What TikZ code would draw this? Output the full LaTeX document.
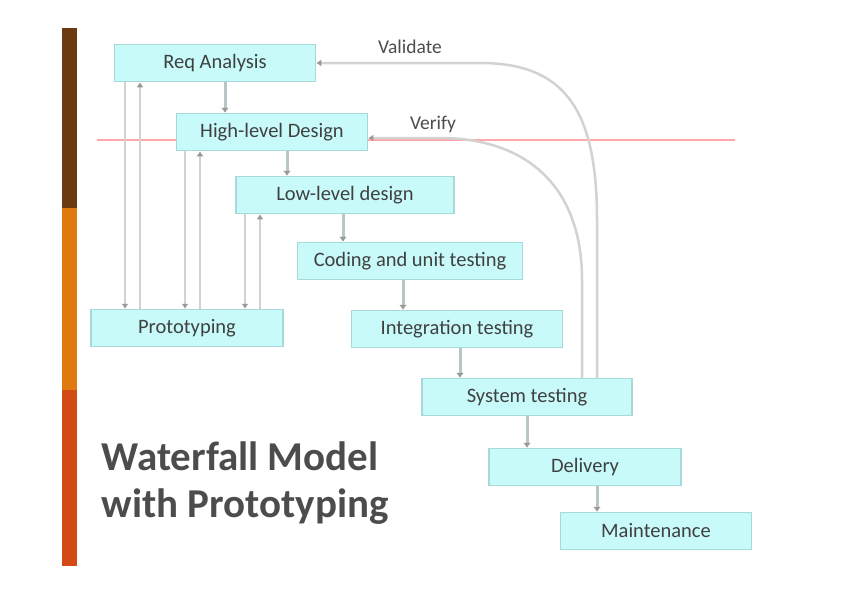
\documentclass[tikz,border=0pt]{standalone}
\usepackage{fontspec}
\setmainfont{Carlito}
\usetikzlibrary{arrows.meta}
\definecolor{barbrown}{HTML}{6B3A10}
\definecolor{barorange}{HTML}{E07A10}
\definecolor{barred}{HTML}{D44A14}
\definecolor{boxfill}{HTML}{C8FAFA}
\definecolor{boxline}{HTML}{A6DADA}
\begin{document}
\begin{tikzpicture}[x=1pt,y=-1pt,
  stage/.style={draw=boxline, line width=1.5pt, fill=boxfill, minimum height=37pt,
    inner sep=0pt, font=\fontsize{20.5}{24}\selectfont, text=black!75},
  flow/.style={draw=teal!25!gray!45, line width=3pt, -{Latex[length=5pt,width=8pt,color=gray!80]}},
  loop/.style={draw=gray!35, line width=2.5pt, -{Latex[length=5pt,width=7pt,color=gray!80]}},
  tag/.style={font=\fontsize{19.5}{23}\selectfont, text=black!70}
]
\useasboundingbox (0,0) rectangle (842,595);
% side bar
\fill[barbrown] (62,28) rectangle (77,208);
\fill[barorange] (62,208) rectangle (77,390);
\fill[barred] (62,390) rectangle (77,566);
\draw[red!35, line width=1.5pt] (97,140) -- (735,140);

\node[stage, minimum width=201pt] (req) at (215,63) {Req Analysis};
\node[stage, minimum width=191pt] (high) at (272,132) {High-level Design};
\node[stage, minimum width=218pt] (low) at (345,195) {Low-level design};
\node[stage, minimum width=225pt] (code) at (410,261) {Coding and unit testing};
\node[stage, minimum width=211pt] (integ) at (457,329) {Integration testing};
\node[stage, minimum width=192pt] (proto) at (187,328) {Prototyping};
\node[stage, minimum width=210pt] (sys) at (527,397) {System testing};
\node[stage, minimum width=192pt] (deliv) at (585,467) {Delivery};
\node[stage, minimum width=191pt] (maint) at (656,531) {Maintenance};

\draw[flow] (req.south -| 225,0) -- (high.north -| 225,0);
\draw[flow] (high.south -| 287,0) -- (low.north -| 287,0);
\draw[flow] (low.south -| 343,0) -- (code.north -| 343,0);
\draw[flow] (code.south -| 403,0) -- (integ.north -| 403,0);
\draw[flow] (integ.south -| 460,0) -- (sys.north -| 460,0);
\draw[flow] (sys.south -| 527,0) -- (deliv.north -| 527,0);
\draw[flow] (deliv.south -| 597,0) -- (maint.north -| 597,0);

% to and from prototyping
\draw[loop] (req.south -| 125,0) -- (proto.north -| 125,0);
\draw[loop] (proto.north -| 140,0) -- (req.south -| 140,0);
\draw[loop] (high.south -| 185,0) -- (proto.north -| 185,0);
\draw[loop] (proto.north -| 200,0) -- (high.south -| 200,0);
\draw[loop] (low.south -| 245,0) -- (proto.north -| 245,0);
\draw[loop] (proto.north -| 260,0) -- (low.south -| 260,0);

% validate and verify
\draw[loop] (sys.north -| 597,0) -- (597,220) .. controls (597,110) and (565,63) .. (480,63) -- (req.east);
\draw[loop] (sys.north -| 582,0) -- (582,280) .. controls (582,185) and (525,138) .. (440,138) -- ([yshift=-6pt]high.east);
\node[tag] (val) at (410,47) {Validate};
\node[tag] (ver) at (433,124) {Verify};

\node[anchor=north west, align=left, font=\fontsize{41}{47}\selectfont\bfseries, text=black!70] (title) at (98,438) {Waterfall Model\\with Prototyping};
\end{tikzpicture}
\end{document}
